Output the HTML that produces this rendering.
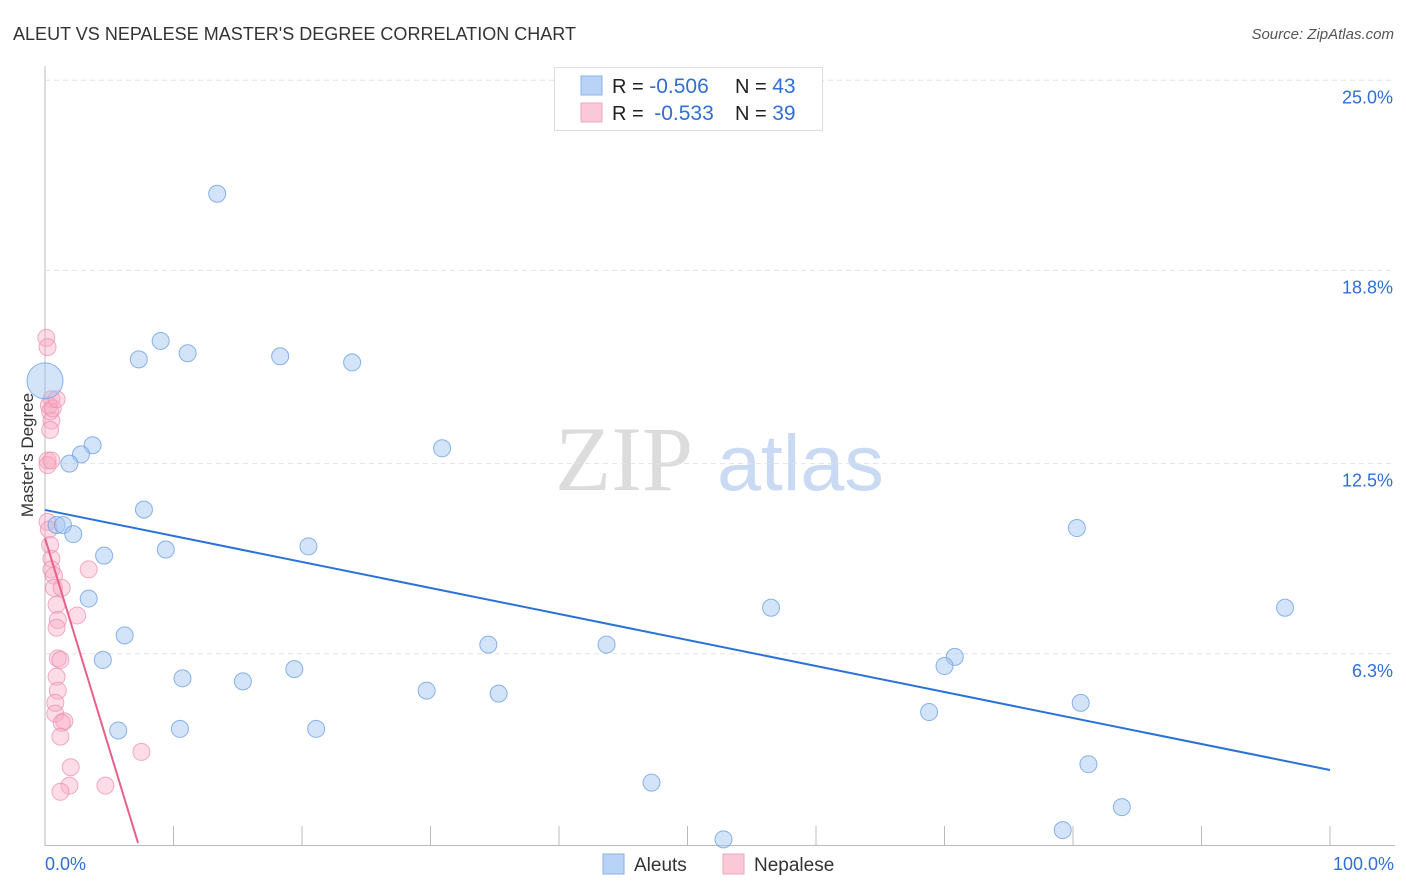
<!DOCTYPE html>
<html><head><meta charset="utf-8"><style>
body{margin:0;background:#fff;font-family:"Liberation Sans",sans-serif;}
svg{display:block}
</style></head><body>
<svg id="chart" width="1406" height="892">
<text x="13" y="40" font-size="18" fill="#333" textLength="563">ALEUT VS NEPALESE MASTER'S DEGREE CORRELATION CHART</text>
<text x="1394" y="39" font-size="15" fill="#555" font-style="italic" text-anchor="end">Source: ZipAtlas.com</text>
<text transform="translate(33,455) rotate(-90)" font-size="17" fill="#333" text-anchor="middle">Master's Degree</text>
<g><text x="555" y="490" font-size="92" font-family="Liberation Serif,serif" fill="#dcdcdc">ZIP</text><text x="717" y="490" font-size="79" fill="#c9daf2">atlas</text></g>
<g id="grid"></g><g id="pts"></g><g id="lines"></g>
<g>
<rect x="554.5" y="67.5" width="268" height="63" fill="#fff" stroke="#ddd"/>
<rect x="581" y="76" width="21" height="19" fill="#b8d3f5" stroke="#86b0e8"/>
<rect x="581" y="103" width="21" height="19" fill="#fac8d6" stroke="#f0a6bc"/>
<text x="612" y="93" font-size="20" fill="#222">R = <tspan fill="#2f6fd6" font-size="21">-0.506</tspan><tspan x="735">N = </tspan><tspan fill="#2f6fd6" font-size="21">43</tspan></text>
<text x="612" y="120" font-size="20" fill="#222">R = <tspan fill="#2f6fd6" dx="5" font-size="21">-0.533</tspan><tspan x="735">N = </tspan><tspan fill="#2f6fd6" font-size="21">39</tspan></text>
</g>
<g>
<rect x="603" y="854" width="21" height="20" fill="#b8d3f5" stroke="#86b0e8"/>
<text x="634" y="871" font-size="19" fill="#333">Aleuts</text>
<rect x="723" y="854" width="21" height="20" fill="#fac8d6" stroke="#f0a6bc"/>
<text x="754" y="871" font-size="19" fill="#333">Nepalese</text>
</g>
</svg>
<script>
const yTicks=[25.0,18.8,12.5,6.3];
const yTickLabels=["25.0%","18.8%","12.5%","6.3%"];
const xTickLabels=["0.0%","100.0%"];
const aleutX=[13.4,9.0,7.3,11.1,18.3,23.9,0,3.7,2.8,1.9,30.9,7.7,0.9,1.4,2.2,4.6,9.4,20.5,80.3,3.4,6.2,56.5,96.5,34.5,43.7,4.5,70.8,70.0,19.4,10.7,15.4,29.7,35.3,68.8,80.6,5.7,10.5,21.1,81.2,47.2,83.8,52.8,79.2];
const aleutY=[21.3,16.5,15.9,16.1,16.0,15.8,15.2,13.1,12.8,12.5,13.0,11.0,10.5,10.5,10.2,9.5,9.7,9.8,10.4,8.1,6.9,7.8,7.8,6.6,6.6,6.1,6.2,5.9,5.8,5.5,5.4,5.1,5.0,4.4,4.7,3.8,3.85,3.85,2.7,2.1,1.3,0.25,0.55];
const nepX=[0.1,0.2,0.5,0.3,0.4,0.5,0.4,0.2,0.2,0.2,0.4,0.5,0.5,0.7,0.7,1.3,3.4,0.9,2.5,1.0,0.9,1.0,1.2,0.9,1.0,0.8,0.8,1.5,1.3,1.2,2.0,1.9,1.2,4.7,7.5,0.6,0.9,0.5,0.3];
const nepY=[16.6,16.3,14.6,14.4,14.2,13.9,13.6,12.6,12.45,10.6,9.85,9.4,9.05,8.85,8.45,8.45,9.05,7.9,7.55,7.4,7.15,6.15,6.1,5.55,5.1,4.7,4.35,4.1,4.05,3.6,2.6,2.0,1.8,2.0,3.1,14.3,14.6,12.6,10.35];
const aleutLine=[10.99,2.51]; // y at x=0, x=100
const nepLine=[10.07,0.13,7.24]; // y at 0, y at x2, x2
const X=v=>45+v*12.85, Y=v=>847-v*30.67;
const NS="http://www.w3.org/2000/svg";
function mk(t,a,p){const e=document.createElementNS(NS,t);for(const k in a)e.setAttribute(k,a[k]);p.appendChild(e);return e;}
const grid=document.getElementById('grid');
mk('line',{x1:45,y1:66,x2:45,y2:846,stroke:'#bbb'},grid);
mk('line',{x1:45,y1:845.5,x2:1395,y2:845.5,stroke:'#bbb'},grid);
yTicks.forEach((t,i)=>{
 const l=mk('line',{x1:45,y1:Y(t),x2:1395,y2:Y(t),stroke:'#e2e2e2','stroke-dasharray':'5,4'},grid);
 
 
 const tx=mk('text',{x:1393,y:Y(t)+23,'font-size':18,fill:'#2f6fd6','text-anchor':'end'},grid);
 tx.textContent=yTickLabels[i];
 
 
});
for(let i=1;i<=10;i++){const l=mk('line',{x1:X(i*10),y1:826,x2:X(i*10),y2:846,stroke:'#bbb'},grid);
 
 }
[[0,'start',45],[100,'end',1394]].forEach((d,i)=>{const tx=mk('text',{x:d[2],y:870,'font-size':18,fill:'#2f6fd6','text-anchor':d[1]},grid);tx.textContent=xTickLabels[i];
 
 });
const pts=document.getElementById('pts');
nepX.forEach((x,i)=>{const c=mk('circle',{cx:X(x),cy:Y(nepY[i]),r:8.5,fill:'rgba(248,170,195,0.4)',stroke:'rgba(235,140,170,0.7)'},pts);
 
 });
aleutX.forEach((x,i)=>{const c=mk('circle',{cx:X(x),cy:Y(aleutY[i]),r:i==6?18:8.5,fill:'rgba(160,195,240,0.45)',stroke:'rgba(110,160,230,0.8)'},pts);
 
 });
const lines=document.getElementById('lines');
const bl=mk('line',{x1:X(0),y1:Y(aleutLine[0]),x2:X(100),y2:Y(aleutLine[1]),stroke:'#2a72d8','stroke-width':2},lines);


const pl=mk('line',{x1:X(0),y1:Y(nepLine[0]),x2:X(nepLine[2]),y2:Y(nepLine[1]),stroke:'#e8608a','stroke-width':2},lines);


</script>
</body></html>
